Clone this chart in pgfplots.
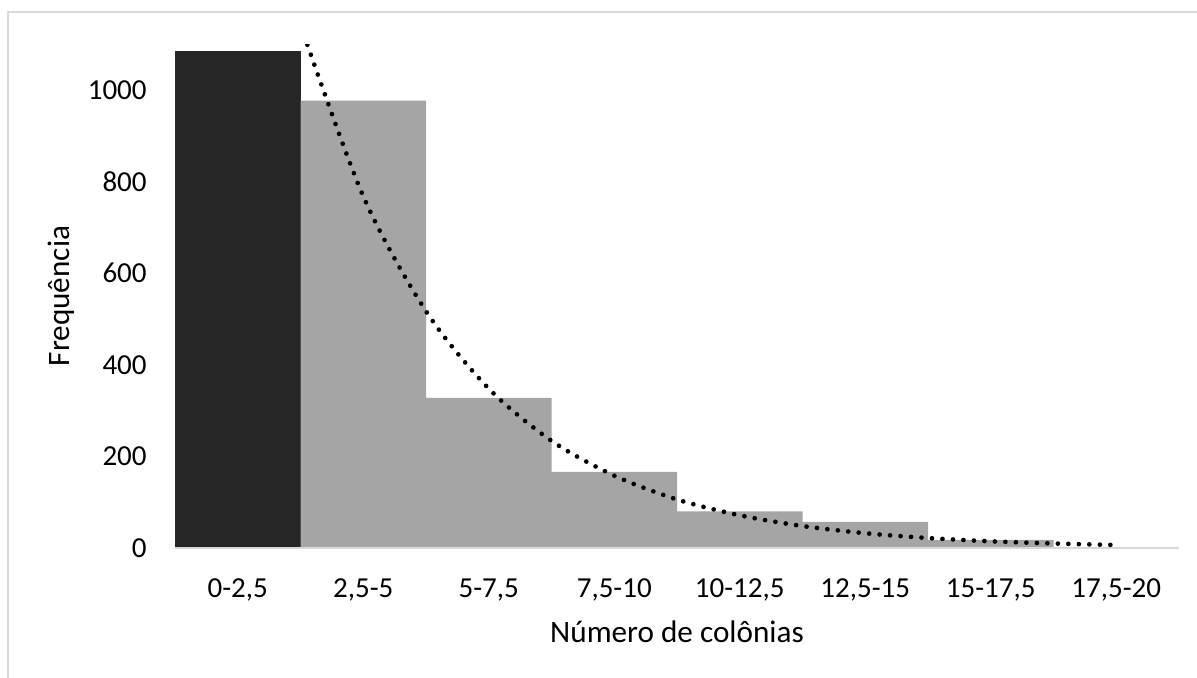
\documentclass[border=0pt]{standalone}
\usepackage{pgfplots}
\pgfplotsset{compat=1.18}
\usepackage{fontspec}
\setmainfont{Carlito}
\definecolor{darkbar}{HTML}{262626}
\definecolor{graybar}{HTML}{A5A5A5}
\definecolor{axisgray}{HTML}{D9D9D9}
\pgfplotstableread{
x y
1 1085
}\firstbar
\pgfplotstableread{
x y
2 977
3 328
4 166
5 80
6 57
7 18
8 1
}\otherbars
\pgfplotstableread{
x y
1.5 1142
2.0 768
2.5 517
3.0 348
3.5 234
4.0 158
4.5 106
5.0 71.4
5.5 48.0
6.0 32.3
6.5 21.8
7.0 14.6
7.5 9.9
8.0 6.6
}\trend
\begin{document}
\begin{tikzpicture}[x=1pt,y=1pt]
\useasboundingbox (0,0) rectangle (598.5,338.5);
\draw[axisgray, line width=0.75pt] (4,-5) -- (4,332.5) -- (605,332.5);
\begin{axis}[
  at={(87.5pt,64.5pt)}, anchor=south west,
  scale only axis, width=502pt, height=251.9pt,
  xmin=0.5, xmax=8.5, ymin=0, ymax=1100,
  axis line style={draw=none},
  major tick length=0pt,
  tick style={draw=none},
  xtick={1,...,8},
  xticklabels={{0-2,5}, {2,5-5}, {5-7,5}, {7,5-10}, {10-12,5}, {12,5-15}, {15-17,5}, {17,5-20}},
  ytick={0,200,...,1000},
  /pgf/number format/assume math mode=true,
  /pgf/number format/1000 sep={},
  tick label style={font=\fontsize{14.5}{17}\selectfont, inner sep=0pt},
  xticklabel style={anchor=north, yshift=-15pt},
  yticklabel style={anchor=east, xshift=-14pt},
  ybar, bar width=1, bar shift=0pt,
  clip=true,
]
\addplot[fill=darkbar, draw=none] table[x=x,y=y] {\firstbar};
\addplot[fill=graybar, draw=none] table[x=x,y=y] {\otherbars};
\draw[axisgray, line width=1pt] (axis cs:0.5,0) -- (axis cs:8.5,0);
\addplot[sharp plot, smooth, black, line width=2.35pt, line cap=round,
  dash pattern=on 0pt off 5.25pt] table[x=x,y=y] {\trend};
\end{axis}
\node[font=\fontsize{15.6}{18}\selectfont] at (338.5,22.5) {Número de colônias};
\node[font=\fontsize{15.6}{18}\selectfont, rotate=90] at (30.5,190.5) {Frequência};
\end{tikzpicture}
\end{document}
